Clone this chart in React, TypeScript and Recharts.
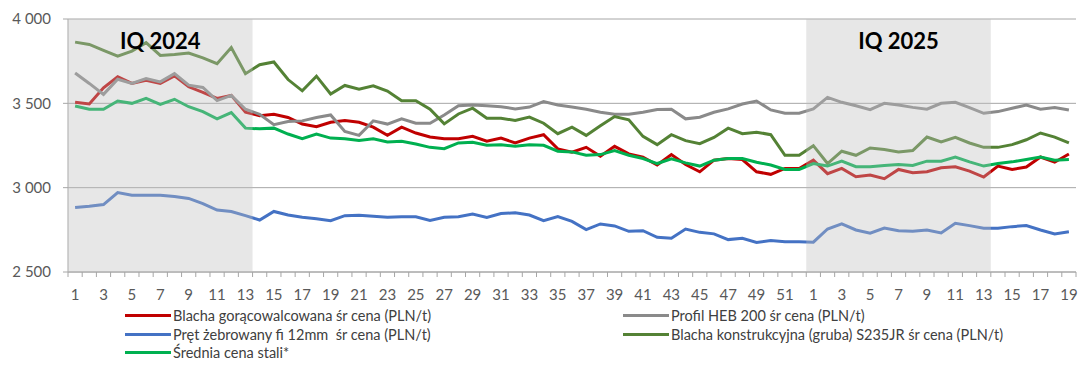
import {
  CartesianGrid,
  Legend,
  Line,
  LineChart,
  ReferenceArea,
  XAxis,
  YAxis,
} from 'recharts'

// week numbers: 2024 (1-52) then 2025 (1-19)
const weeks = [
  '1', '2', '3', '4', '5', '6', '7', '8', '9', '10', '11', '12', '13', '14', '15', '16', '17', '18',
  '19', '20', '21', '22', '23', '24', '25', '26', '27', '28', '29', '30', '31', '32', '33', '34', '35',
  '36', '37', '38', '39', '40', '41', '42', '43', '44', '45', '46', '47', '48', '49', '50', '51', '52',
  '1', '2', '3', '4', '5', '6', '7', '8', '9', '10', '11', '12', '13', '14', '15', '16', '17', '18', '19',
]

const blachaGoraca = [
  3506, 3496, 3592, 3657, 3618, 3637, 3618, 3663, 3598, 3565,
  3529, 3547, 3447, 3427, 3435, 3416, 3377, 3361, 3388, 3398,
  3388, 3359, 3310, 3359, 3324, 3300, 3290, 3290, 3304, 3275,
  3294, 3265, 3294, 3314, 3230, 3210, 3239, 3186, 3245, 3200,
  3181, 3134, 3196, 3137, 3094, 3163, 3173, 3167, 3094, 3079,
  3114, 3114, 3163, 3083, 3114, 3065, 3075, 3053, 3108, 3088,
  3094, 3118, 3124, 3098, 3063, 3128, 3108, 3122, 3182, 3151, 3200,
]

const profilHeb = [
  3680, 3618, 3553, 3643, 3618, 3647, 3627, 3676, 3608, 3594,
  3516, 3547, 3465, 3435, 3373, 3392, 3396, 3416, 3431, 3333,
  3310, 3396, 3377, 3408, 3382, 3382, 3431, 3486, 3490, 3486,
  3480, 3467, 3478, 3510, 3490, 3478, 3465, 3447, 3435, 3435,
  3447, 3463, 3465, 3408, 3418, 3447, 3467, 3496, 3514, 3461,
  3441, 3441, 3467, 3535, 3506, 3486, 3463, 3500, 3490, 3476,
  3465, 3500, 3506, 3475, 3441, 3451, 3471, 3490, 3465, 3475, 3461,
]

const pretZebrowany = [
  2883, 2890, 2900, 2971, 2955, 2955, 2955, 2947, 2936, 2906,
  2867, 2859, 2834, 2808, 2859, 2838, 2824, 2816, 2804, 2834,
  2836, 2830, 2824, 2828, 2828, 2806, 2824, 2828, 2843, 2824,
  2847, 2851, 2838, 2804, 2828, 2800, 2751, 2785, 2773, 2741,
  2745, 2706, 2700, 2755, 2735, 2726, 2692, 2700, 2675, 2686,
  2680, 2680, 2677, 2755, 2785, 2749, 2730, 2761, 2745, 2741,
  2749, 2732, 2789, 2775, 2759, 2759, 2769, 2775, 2749, 2726, 2739,
]

const blachaKonstr = [
  3863, 3849, 3814, 3780, 3810, 3860, 3784, 3790, 3798, 3770,
  3735, 3831, 3676, 3729, 3745, 3641, 3574, 3661, 3555, 3606,
  3584, 3604, 3573, 3516, 3516, 3465, 3378, 3437, 3471, 3412,
  3412, 3398, 3418, 3382, 3320, 3359, 3310, 3367, 3422, 3402,
  3304, 3255, 3314, 3279, 3261, 3298, 3353, 3320, 3329, 3314,
  3192, 3192, 3249, 3143, 3216, 3192, 3235, 3226, 3212, 3220,
  3300, 3271, 3298, 3265, 3239, 3239, 3255, 3284, 3324, 3300, 3265,
]

const sredniaCena = [
  3484, 3465, 3465, 3514, 3500, 3529, 3494, 3524, 3480, 3451,
  3408, 3445, 3353, 3349, 3353, 3318, 3290, 3318, 3294, 3290,
  3279, 3290, 3271, 3275, 3259, 3239, 3231, 3265, 3269, 3251,
  3255, 3245, 3255, 3251, 3216, 3212, 3192, 3196, 3220, 3192,
  3173, 3143, 3171, 3147, 3128, 3163, 3173, 3173, 3151, 3134,
  3108, 3108, 3143, 3128, 3157, 3124, 3124, 3132, 3137, 3132,
  3157, 3157, 3181, 3153, 3128, 3143, 3153, 3167, 3181, 3163, 3167,
]

const yTicks = [2500, 3000, 3500, 4000]

const series = [
  { key: 'blachaGoraca', name: 'Blacha gorącowalcowana śr cena (PLN/t)', color: '#c00000', values: blachaGoraca },
  { key: 'profilHeb', name: 'Profil HEB 200 śr cena (PLN/t)', color: '#8a8a8a', values: profilHeb },
  { key: 'pretZebrowany', name: 'Pręt żebrowany fi 12mm  śr cena (PLN/t)', color: '#4472c4', values: pretZebrowany },
  { key: 'blachaKonstr', name: 'Blacha konstrukcyjna (gruba) S235JR śr cena (PLN/t)', color: '#548235', values: blachaKonstr },
  { key: 'sredniaCena', name: 'Średnia cena stali*', color: '#00b050', values: sredniaCena },
]

const data = weeks.map((week, i) => {
  const row: Record<string, string | number> = { id: String(i), week }
  series.forEach((s) => {
    row[s.key] = s.values[i]
  })
  return row
})

const WIDTH = 1086
const HEIGHT = 365
const Y_AXIS_W = 68
const RIGHT = 10
const BAND = (WIDTH - Y_AXIS_W - RIGHT) / weeks.length
const AXIS = '#a6a6a6'
const TEXT = '#595959'

const fmtThousands = (v: number) => `${Math.floor(v / 1000)} ${String(v % 1000).padStart(3, '0')}`

// tick marks sit between categories, labels on every other week
function WeekTick(props: any) {
  const { x, y, index } = props
  const half = BAND / 2
  return (
    <g>
      <line x1={x - half} y1={y} x2={x - half} y2={y + 5} stroke={AXIS} />
      {index === weeks.length - 1 && <line x1={x + half} y1={y} x2={x + half} y2={y + 5} stroke={AXIS} />}
      {index % 2 === 0 && (
        <text x={x} y={y + 28} textAnchor="middle" fill={TEXT} fontSize={15}>
          {weeks[index]}
        </text>
      )}
    </g>
  )
}

function LegendBox() {
  return (
    <div
      style={{
        display: 'grid',
        gridTemplateColumns: '498px 1fr',
        paddingLeft: 125,
        paddingTop: 5,
        rowGap: 1,
        fontSize: 14.5,
        color: '#404040',
      }}
    >
      {series.map((s) => (
        <div key={s.key} style={{ display: 'flex', alignItems: 'center', height: 17.5, whiteSpace: 'pre' }}>
          <span style={{ display: 'inline-block', width: 46, height: 3, background: s.color, marginRight: 2 }} />
          {s.name}
        </div>
      ))}
    </div>
  )
}

const quarterLabel = (value: string) => ({
  value,
  position: 'insideTop' as const,
  offset: 14,
  fill: '#000',
  fontSize: 22,
  fontWeight: 700,
})

export default function App() {
  return (
    <div style={{ position: 'absolute', left: 0, top: 0, fontFamily: 'Lato, sans-serif', background: '#fff' }}>
      <LineChart width={WIDTH} height={HEIGHT} data={data} margin={{ top: 19, right: RIGHT, bottom: 5, left: 0 }}>
        <CartesianGrid vertical={false} stroke={AXIS} />
        <XAxis
          dataKey="id"
          scale="band"
          interval={0}
          height={30}
          tickSize={0}
          tickMargin={0}
          tick={<WeekTick />}
          stroke={AXIS}
        />
        <YAxis
          width={Y_AXIS_W}
          domain={[2500, 4000]}
          ticks={yTicks}
          tickFormatter={fmtThousands}
          tickSize={5}
          tickMargin={12}
          stroke={AXIS}
          tick={{ fill: TEXT, fontSize: 15 }}
        />
        <Legend verticalAlign="bottom" height={58} content={() => <LegendBox />} />
        {series.map((s) => (
          <Line
            key={s.key}
            type="linear"
            dataKey={s.key}
            name={s.name}
            stroke={s.color}
            strokeWidth={3}
            dot={false}
            isAnimationActive={false}
          />
        ))}
        <ReferenceArea
          x1="0"
          x2="12"
          fill="#bfbfbf"
          fillOpacity={0.37}
          stroke="none"
          zIndex={1500}
          label={quarterLabel('IQ 2024')}
        />
        <ReferenceArea
          x1="52"
          x2="64"
          fill="#bfbfbf"
          fillOpacity={0.37}
          stroke="none"
          zIndex={1500}
          label={quarterLabel('IQ 2025')}
        />
      </LineChart>
    </div>
  )
}
